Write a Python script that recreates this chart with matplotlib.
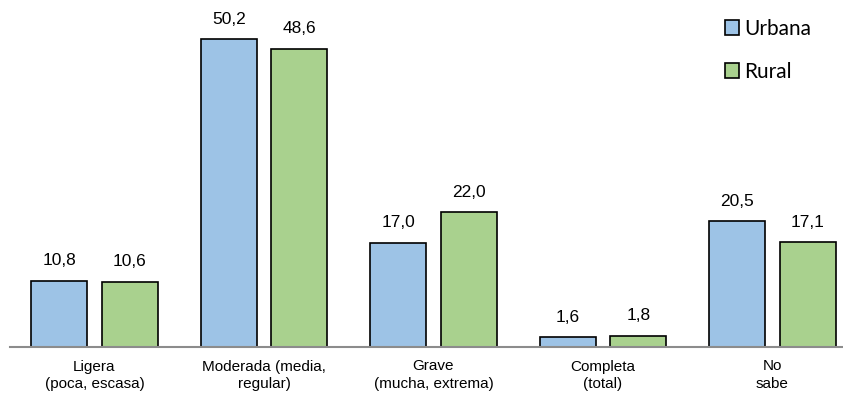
import matplotlib
matplotlib.use('Agg')
import matplotlib.pyplot as plt
import numpy as np
from matplotlib.patches import Patch

categories = ["Ligera\n(poca, escasa)", "Moderada (media,\nregular)", "Grave\n(mucha, extrema)",
              "Completa\n(total)", "No\nsabe"]
urbana = [10.8, 50.2, 17.0, 1.6, 20.5]
rural = [10.6, 48.6, 22.0, 1.8, 17.1]
series = ["Urbana", "Rural"]
colors = ["#9DC3E6", "#A9D18E"]

W, H = 843, 403
fig = plt.figure(figsize=(W / 100, H / 100), dpi=100)
# baseline at y=347 px, plot area spanning x=10..843 px
ax = fig.add_axes([10 / W, 56 / H, 833 / W, 347 / H])

x = np.arange(len(categories))
bw = 0.33
off = 0.208
for vals, dx, col in [(urbana, -off, colors[0]), (rural, off, colors[1])]:
    bars = ax.bar(x + dx, vals, bw, color=col, edgecolor="black", linewidth=1.2, zorder=2)
    for b, v in zip(bars, vals):
        ax.annotate(f"{v:.1f}".replace(".", ","), (b.get_x() + b.get_width() / 2, v),
                    xytext=(0, 9), textcoords="offset points", ha="center", va="bottom",
                    fontsize=12.5, family="Liberation Sans")

ax.set_xlim(-0.4985, 4.416)
ax.set_ylim(0, 347 / 6.135)
for s in ["top", "right", "left"]:
    ax.spines[s].set_visible(False)
ax.spines["bottom"].set_color("#8c8c8c")
ax.spines["bottom"].set_linewidth(1.5)
ax.spines["bottom"].set_zorder(3)
ax.set_yticks([])
ax.set_xticks(x)
ax.set_xticklabels(categories, fontsize=11, family="Liberation Sans", linespacing=1.3)
ax.tick_params(axis="x", length=0, pad=9)

handles = [Patch(facecolor=c, edgecolor="black", linewidth=1.2) for c in colors]
ax.legend(handles, series, loc="upper left", bbox_to_anchor=(706 / W, 403 / H),
          bbox_transform=fig.transFigure, frameon=False, prop={"family": "Lato", "size": 15},
          handlelength=0.7, handleheight=0.7, handletextpad=0.25, labelspacing=1.1)

fig.savefig("out.png", dpi=100)
